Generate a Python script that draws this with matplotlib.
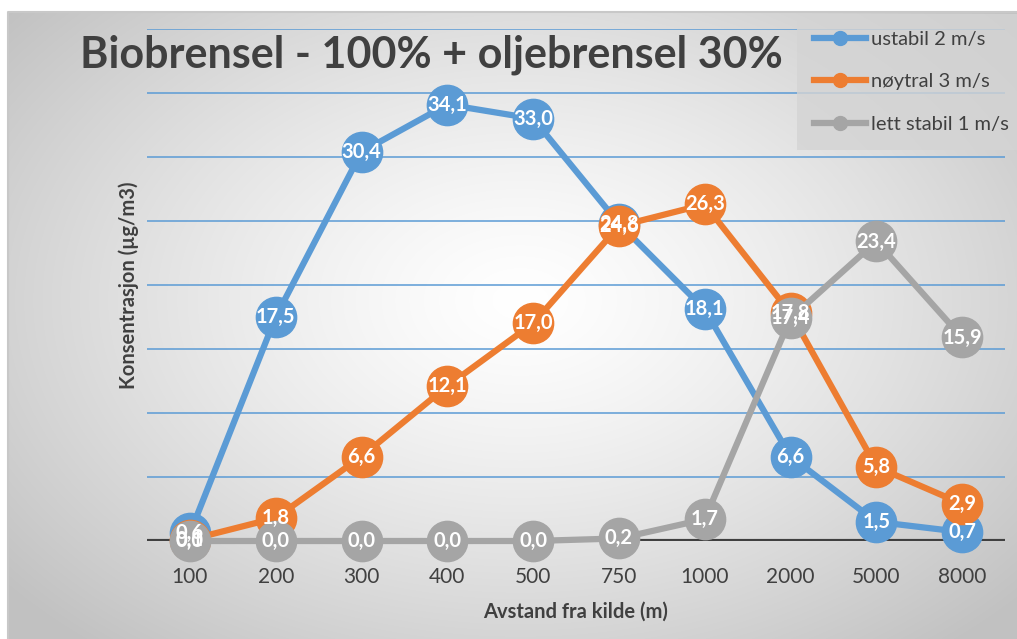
import numpy as np
import matplotlib
matplotlib.use("Agg")
import matplotlib.pyplot as plt
from matplotlib.lines import Line2D

categories = ["100", "200", "300", "400", "500", "750", "1000", "2000", "5000", "8000"]
ustabil = [0.6, 17.5, 30.4, 34.1, 33.0, 24.8, 18.1, 6.6, 1.5, 0.7]
noytral = [0.1, 1.8, 6.6, 12.1, 17.0, 24.6, 26.3, 17.8, 5.8, 2.9]
lett = [0.0, 0.0, 0.0, 0.0, 0.0, 0.2, 1.7, 17.4, 23.4, 15.9]
series_names = ["ustabil 2 m/s", "nøytral 3 m/s", "lett stabil 1 m/s"]
colors = ["#5B9BD5", "#ED7D31", "#A5A5A5"]
title = "Biobrensel - 100% + oljebrensel 30%"
xlabel = "Avstand fra kilde (m)"
ylabel = "Konsentrasjon (µg/m3)"

plt.rcParams['font.family'] = ['Lato', 'DejaVu Sans']
W, H = 1017, 639
fig = plt.figure(figsize=(W / 100, H / 100), dpi=100)

# background gradient
bg = fig.add_axes([0, 0, 1, 1])
bg.set_xlim(0, W); bg.set_ylim(H, 0); bg.axis("off")
yy, xx = np.mgrid[0:H, 0:W]
r = np.sqrt(((xx - 520) / 620) ** 2 + ((yy - 300) / 420) ** 2)
val = np.clip(1.0 - 0.22 * r ** 1.3, 0.76, 1.0)
img = np.dstack([val, val, val])
img[:12, :, :] = 1.0
img[:, :8, :] = 1.0
bg.imshow(img, extent=[0, W, H, 0], aspect="auto", interpolation="bilinear")
bg.plot([8, 8, W], [H, 12, 12], color="#c8c8c8", lw=1.5)

ax = fig.add_axes([147 / W, (H - 541) / H, (1005 - 147) / W, 512 / H])
ax.patch.set_alpha(0)
x = np.arange(len(categories))
ax.set_xlim(-0.5, len(categories) - 0.5)
ax.set_ylim(0, 40)
for s in ax.spines.values():
    s.set_visible(False)
ax.set_yticks(np.arange(5, 41, 5))
ax.yaxis.grid(True, color="#5B9BD5", lw=1.1)
ax.set_axisbelow(True)
ax.tick_params(axis="y", left=False, labelleft=False)
ax.axhline(0, color="#404040", lw=3, zorder=1)
ax.set_xticks(x)
ax.set_xticklabels(categories, fontsize=15, color="#404040")
ax.tick_params(axis="x", length=0, pad=19)

for i, (vals, c) in enumerate(zip([ustabil, noytral, lett], colors)):
    ax.plot(x, vals, color=c, lw=4.5, marker="o", ms=29, mec=c, mfc=c,
            zorder=3 + i, clip_on=False)
for i, vals in enumerate([ustabil, noytral, lett]):
    for xi, v in zip(x, vals):
        ax.text(xi, v, f"{v:.1f}".replace(".", ","), color="white", fontsize=14.5,
                fontweight="bold", ha="center", va="center", zorder=10)

ax.set_xlabel(xlabel, fontsize=14.5, fontweight="bold", color="#404040", labelpad=10)
ax.set_ylabel(ylabel, fontsize=14.5, fontweight="bold", color="#404040", labelpad=6)

fig.text(80 / W, 1 - 55 / H, title, fontsize=31, fontweight="bold", color="#404040",
         ha="left", va="center")

handles = [Line2D([0], [0], color=c, lw=4.5, marker="o", ms=10) for c in colors]
leg = fig.legend(handles, series_names, loc="upper left", bbox_to_anchor=(797 / W, 1 - 14 / H),
                 fontsize=14.5, frameon=True, handlelength=2.6, labelspacing=1.25,
                 handletextpad=0.2, borderaxespad=0, borderpad=0.85)
leg.get_frame().set_facecolor("#d4d4d4")
leg.get_frame().set_alpha(0.8)
leg.get_frame().set_edgecolor("none")
leg.get_frame().set_boxstyle("square", pad=0)
for t in leg.get_texts():
    t.set_color("#404040")

fig.savefig("out.png", dpi=100)
